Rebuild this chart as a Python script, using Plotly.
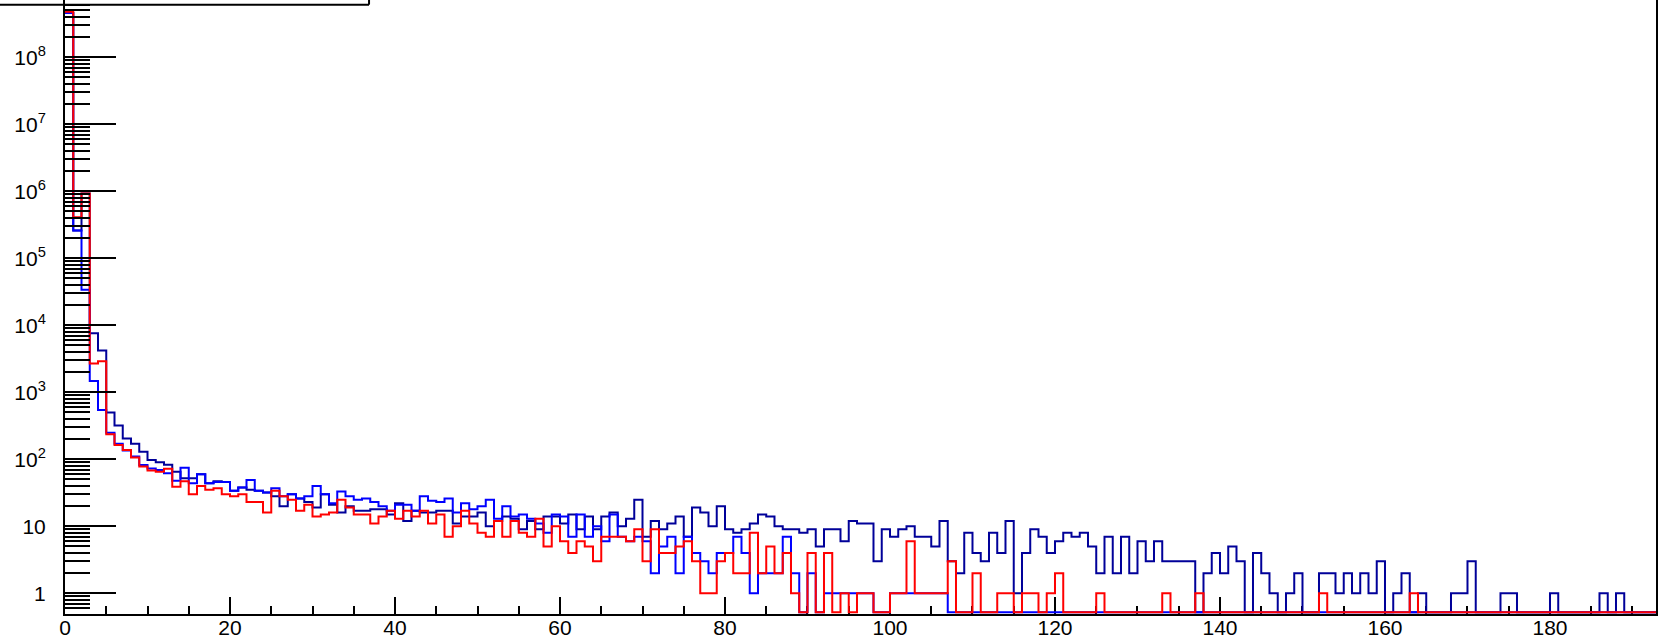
import plotly.graph_objects as go

# ---------------- data (bin width 1, bins start at 0) ----------------
bin_edges_start = 0
bin_width = 1

navy_counts = [
    4.6e8, 2.6e5, 9.3e5, 7600, 4200, 500, 320, 205, 170, 130,
    98, 90, 83, 65, 52, 52, 60, 44, 47, 46,
    34, 38, 35, 34, 32, 28, 20, 30, 26, 23,
    19, 30, 21, 16, 20, 17, 17, 18, 18, 15,
    22, 12, 17, 16, 16, 17, 17, 11, 14, 14,
    16, 10, 12, 14, 13, 9, 12, 9, 14, 14,
    11, 15, 9, 14, 9, 14, 16, 10, 13, 25,
    7, 12, 9, 11, 14, 7, 19, 16, 10, 20,
    9, 8, 9, 11, 15, 14, 10, 9, 9, 8,
    9, 5, 9, 9, 6, 12, 11, 11, 3, 9,
    7, 9, 10, 7, 7, 5, 12, 3, 2, 8,
    4, 3, 8, 4, 12, 1, 4, 9, 7, 4,
    6, 8, 7, 8, 5, 2, 7, 2, 7, 2,
    6, 3, 6, 3, 3, 3, 3, 0, 2, 4,
    2, 5, 3, 0, 4, 2, 1, 0, 1, 2,
    0, 0, 2, 2, 1, 2, 1, 2, 1, 3,
    0, 1, 2, 0, 1, 0, 0, 0, 1, 1,
    3, 0, 0, 0, 1, 1, 0, 0, 0, 0,
    1, 0, 0, 0, 0, 0, 1, 0, 1, 0,
    0, 0, 0,
]

blue_counts = [
    4.6e8, 2.6e5, 3.4e4, 1480, 545, 250, 170, 135, 110, 82,
    73, 69, 62, 48, 75, 44, 60, 44, 46, 46,
    34, 38, 49, 34, 32, 37, 28, 30, 26, 28,
    40, 30, 22, 33, 28, 25, 26, 23, 20, 17,
    21, 21, 17, 28, 24, 23, 26, 16, 22, 18,
    20, 25, 13, 20, 14, 15, 13, 11, 8, 15,
    14, 7, 15, 7, 10, 6, 15, 7, 6, 7,
    6, 2, 5, 7, 2, 7, 4, 3, 2, 4,
    4, 7, 4, 1, 2, 2, 2, 7, 2, 0,
    2, 0, 1, 1, 1, 1, 1, 1, 0, 0,
    1, 1, 1, 1, 1, 1, 1, 0, 0, 0,
    0, 0, 0, 0, 0, 0, 0, 0, 0, 0,
    0, 0, 0, 0, 0, 0, 0, 0, 0, 0,
    0, 0, 0, 0, 0, 0, 0, 0, 0, 0,
    0, 0, 0, 0, 0, 0, 0, 0, 0, 0,
    0, 0, 0, 0, 0, 0, 0, 0, 0, 0,
    0, 0, 0, 0, 0, 0, 0, 0, 0, 0,
    0, 0, 0, 0, 0, 0, 0, 0, 0, 0,
    0, 0, 0, 0, 0, 0, 0, 0, 0, 0,
    0, 0, 0,
]

red_counts = [
    4.8e8, 4.1e5, 9.3e5, 2700, 2900, 236, 163, 138, 106, 78,
    68, 65, 72, 39, 47, 30, 40, 35, 37, 30,
    28, 30, 23, 23, 16, 34, 28, 25, 17, 21,
    14, 15, 16, 25, 19, 15, 15, 11, 14, 17,
    13, 17, 14, 17, 11, 15, 7, 10, 17, 11,
    8, 7, 12, 7, 12, 8, 7, 13, 5, 10,
    6, 4, 6, 5, 3, 7, 7, 7, 6, 9,
    3, 9, 4, 4, 5, 6, 3, 1, 1, 3,
    4, 2, 2, 8, 2, 5, 2, 4, 1, 0,
    4, 0, 4, 0, 1, 0, 1, 1, 0, 0,
    1, 1, 6, 1, 1, 1, 1, 3, 0, 0,
    2, 0, 0, 1, 1, 0, 1, 1, 0, 1,
    2, 0, 0, 0, 0, 1, 0, 0, 0, 0,
    0, 0, 0, 1, 0, 0, 0, 1, 0, 0,
    0, 0, 0, 0, 0, 0, 0, 0, 0, 0,
    0, 0, 1, 0, 0, 0, 0, 0, 0, 0,
    0, 0, 0, 1, 0, 0, 0, 0, 0, 0,
    0, 0, 0, 0, 0, 0, 0, 0, 0, 0,
    0, 0, 0, 0, 0, 0, 0, 0, 0, 0,
    0, 0, 0,
]

y_tick_values = [1, 10, 1e2, 1e3, 1e4, 1e5, 1e6, 1e7, 1e8]
y_tick_labels = ["1", "10", "10<sup>2</sup>", "10<sup>3</sup>", "10<sup>4</sup>",
                 "10<sup>5</sup>", "10<sup>6</sup>", "10<sup>7</sup>", "10<sup>8</sup>"]
y_minor_values = [m * 10 ** e for e in range(-1, 9) for m in range(2, 10)]

# ---------------- styling ----------------
X_RANGE = [0, 192.85]
Y_LOG_RANGE = [-0.309, 8.855]
ZERO_FLOOR = 0.52  # empty bins drawn on the lower frame edge, as ROOT does
FONT = "Liberation Sans, Arial, Helvetica, sans-serif"
FONT_SIZE = 21


def step_xy(counts):
    xs = [bin_edges_start + i * bin_width for i in range(len(counts) + 1)]
    ys = [c if c > 0 else ZERO_FLOOR for c in counts]
    ys = ys + [ys[-1]]
    return xs, ys


fig = go.Figure()
for counts, color in [(navy_counts, "#000099"), (blue_counts, "#0000ff"), (red_counts, "#ff0000")]:
    xs, ys = step_xy(counts)
    fig.add_trace(go.Scatter(x=xs, y=ys, mode="lines", line=dict(shape="hv", color=color, width=2),
                             showlegend=False, hoverinfo="skip"))

fig.update_layout(
    width=1661, height=643,
    margin=dict(l=65, r=5, t=0, b=29, autoexpand=False),
    paper_bgcolor="white", plot_bgcolor="white",
    font=dict(family=FONT, size=FONT_SIZE, color="black"),
    showlegend=False,
)

fig.update_xaxes(
    range=X_RANGE, showgrid=False, zeroline=False, automargin=False,
    showline=True, linecolor="black", linewidth=2, layer="below traces",
    ticks="inside", ticklen=17, tickwidth=1.5, tickcolor="black",
    tick0=0, dtick=20, ticklabelstandoff=-6,
    minor=dict(ticks="inside", ticklen=8, tickwidth=1.5, tickcolor="black", dtick=5, showgrid=False),
    tickfont=dict(family=FONT, size=FONT_SIZE, color="black"),
)
fig.update_yaxes(
    type="log", range=Y_LOG_RANGE, showgrid=False, zeroline=False, automargin=False,
    showline=True, mirror=True, linecolor="black", linewidth=2,
    ticks="inside", ticklen=51, tickwidth=1.5, tickcolor="black",
    tickvals=y_tick_values, ticktext=y_tick_labels, ticklabelstandoff=13,
    minor=dict(ticks="inside", ticklen=25, tickwidth=1.5, tickcolor="black",
               tickvals=y_minor_values, showgrid=False),
    tickfont=dict(family=FONT, size=FONT_SIZE, color="black"),
)

# title/stat box edge peeking in at the top-left corner
fig.add_shape(type="line", xref="paper", yref="paper", x0=-0.045, x1=0.1911, y0=0.9924, y1=0.9924,
              line=dict(color="black", width=2))
fig.add_shape(type="line", xref="paper", yref="paper", x0=0.1911, x1=0.1911, y0=0.9924, y1=1.01,
              line=dict(color="black", width=2))

fig.write_html("out.html", config={"displayModeBar": False},
               post_script="document.body.style.margin='0';")
